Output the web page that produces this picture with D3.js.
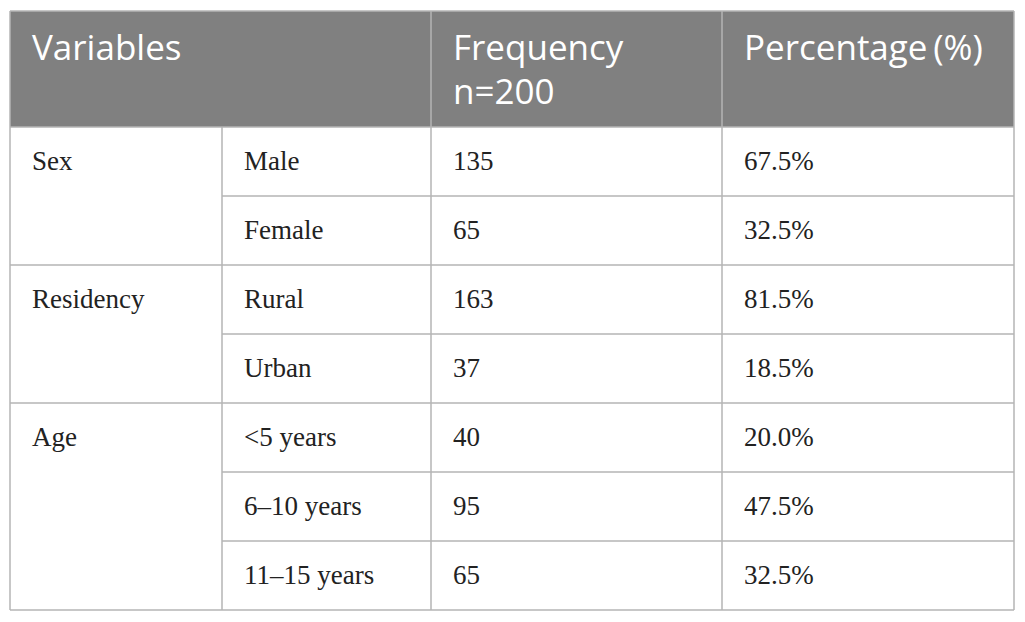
<!DOCTYPE html>
<html>
<head>
<meta charset="utf-8">
<style>
  body { margin: 0; background: #fff; }
  svg { display: block; }
  .head text { fill: #fff; font-family: "Open Sans", "Noto Sans", sans-serif; font-size: 35px; }
  .body text { fill: #222; font-family: "Liberation Serif", serif; font-size: 27px; }
  line.grid { stroke: #b4b4b4; stroke-width: 1.5px; }
</style>
</head>
<body>
<svg width="1025" height="622"></svg>
<script src="https://cdn.jsdelivr.net/npm/d3@7"></script>
<script>
// table contents
const headers = [["Variables"], ["Frequency", "n=200"], ["Percentage\u2009(%)"]]
const groups = ["Sex", "Residency", "Age"]
const groupOf = ["Sex", "Sex", "Residency", "Residency", "Age", "Age", "Age"]
const categories = ["Male", "Female", "Rural", "Urban", "<5 years", "6\u201310 years", "11\u201315 years"]
const frequency = [135, 65, 163, 37, 40, 95, 65]
const percentage = [67.5, 32.5, 81.5, 18.5, 20.0, 47.5, 32.5]

const svg = d3.select("svg")

// column edges: 0 = variable, 1 = category, 2 = frequency, 3 = percentage, 4 = right edge
const x = d3.scaleOrdinal().domain([0, 1, 2, 3, 4]).range([10, 222, 431, 722, 1014])
// body rows 0..7
const y = d3.scaleLinear().domain([0, 7]).range([127, 610])
const tableTop = 11
const pad = 22

// header band
const head = svg.append("g").attr("class", "head")
head.append("rect")
  .attr("x", x(0)).attr("y", tableTop)
  .attr("width", x(4) - x(0)).attr("height", y(0) - tableTop)
  .attr("fill", "#808080")

const headCols = [0, 2, 3]
head.selectAll("text")
  .data(headers)
  .join("text")
  .attr("x", (d, i) => x(headCols[i]) + pad)
  .attr("y", 60)
  .selectAll("tspan")
  .data(d => d)
  .join("tspan")
  .attr("x", function () { return this.parentNode.getAttribute("x") })
  .attr("dy", (d, i) => i === 0 ? 0 : 44)
  .text(d => d)

// body text
const body = svg.append("g").attr("class", "body")
const baseline = i => y(i) + 43

body.selectAll("text.group")
  .data(groups)
  .join("text")
  .attr("class", "group")
  .attr("x", x(0) + pad)
  .attr("y", g => baseline(groupOf.indexOf(g)))
  .text(g => g)

body.selectAll("text.cat")
  .data(categories)
  .join("text")
  .attr("class", "cat")
  .attr("x", x(1) + pad)
  .attr("y", (d, i) => baseline(i))
  .text(d => d)

body.selectAll("text.freq")
  .data(frequency)
  .join("text")
  .attr("class", "freq")
  .attr("x", x(2) + pad)
  .attr("y", (d, i) => baseline(i))
  .text(d => d)

body.selectAll("text.pct")
  .data(percentage)
  .join("text")
  .attr("class", "pct")
  .attr("x", x(3) + pad)
  .attr("y", (d, i) => baseline(i))
  .text(d => d3.format(".1f")(d) + "%")

// grid lines
const grid = svg.append("g")

// horizontal lines: full width at group boundaries, from column 1 inside groups
d3.range(0, 8).forEach(i => {
  const groupStart = i === 0 || i === 7 || groupOf[i] !== groupOf[i - 1]
  grid.append("line").attr("class", "grid")
    .attr("x1", groupStart ? x(0) : x(1)).attr("x2", x(4))
    .attr("y1", y(i)).attr("y2", y(i))
})
grid.append("line").attr("class", "grid")
  .attr("x1", x(0)).attr("x2", x(4)).attr("y1", tableTop).attr("y2", tableTop)

// vertical lines
;[0, 2, 3, 4].forEach(c => {
  grid.append("line").attr("class", "grid")
    .attr("x1", x(c)).attr("x2", x(c)).attr("y1", tableTop).attr("y2", y(7))
})
grid.append("line").attr("class", "grid")
  .attr("x1", x(1)).attr("x2", x(1)).attr("y1", y(0)).attr("y2", y(7))
</script>
</body>
</html>
